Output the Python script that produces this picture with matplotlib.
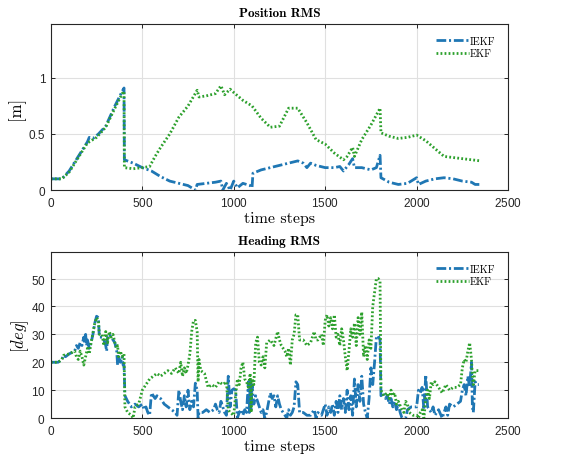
import matplotlib
matplotlib.use("Agg")
import matplotlib.pyplot as plt
import numpy as np

# ---------------- data ----------------
pos_iekf_t = [0, 50, 60, 100, 150, 200, 210, 230, 260, 300, 350, 390, 400, 402, 450, 500, 550, 600, 650, 700,
              750, 790, 800, 850, 900, 930, 940, 960, 980, 1000, 1020, 1050, 1090, 1100, 1105, 1150, 1200, 1250,
              1300, 1350, 1380, 1400, 1420, 1450, 1500, 1550, 1580, 1600, 1630, 1650, 1660, 1700, 1750, 1780,
              1800, 1805, 1850, 1900, 1950, 2000, 2010, 2050, 2100, 2150, 2200, 2250, 2300, 2320, 2350]
pos_iekf_v = [0.1, 0.1, 0.1, 0.17, 0.3, 0.43, 0.47, 0.46, 0.5, 0.57, 0.75, 0.88, 0.91, 0.27, 0.24, 0.2, 0.17,
              0.12, 0.08, 0.06, 0.04, 0.0, 0.05, 0.06, 0.07, 0.08, 0.0, 0.06, 0.0, 0.08, 0.02, 0.06, 0.04, 0.02,
              0.15, 0.18, 0.2, 0.22, 0.24, 0.26, 0.24, 0.2, 0.24, 0.22, 0.2, 0.2, 0.21, 0.17, 0.23, 0.28, 0.2,
              0.2, 0.18, 0.2, 0.31, 0.11, 0.07, 0.05, 0.06, 0.11, 0.05, 0.08, 0.1, 0.11, 0.1, 0.08, 0.07, 0.05,
              0.05]

pos_ekf_t = [0, 60, 100, 150, 200, 250, 300, 350, 390, 400, 402, 450, 500, 540, 570, 600, 650, 700, 750, 800,
             810, 850, 900, 930, 950, 980, 1000, 1050, 1100, 1150, 1200, 1250, 1300, 1350, 1400, 1450, 1500,
             1550, 1600, 1620, 1650, 1660, 1700, 1750, 1800, 1805, 1850, 1900, 1950, 2000, 2050, 2100, 2150,
             2200, 2250, 2300, 2350]
pos_ekf_v = [0.1, 0.1, 0.16, 0.29, 0.42, 0.47, 0.56, 0.73, 0.86, 0.88, 0.2, 0.19, 0.2, 0.21, 0.3, 0.38, 0.5,
             0.65, 0.75, 0.89, 0.83, 0.84, 0.86, 0.93, 0.85, 0.9, 0.87, 0.8, 0.75, 0.64, 0.56, 0.57, 0.73, 0.73,
             0.6, 0.45, 0.41, 0.33, 0.27, 0.3, 0.38, 0.3, 0.45, 0.58, 0.73, 0.51, 0.48, 0.46, 0.47, 0.49, 0.44,
             0.37, 0.3, 0.29, 0.28, 0.27, 0.26]

head_iekf_t = [0, 40, 60, 70, 80, 100, 130, 140, 150, 160, 170, 180, 185, 190, 195, 200, 210, 220, 230, 240,
               250, 260, 265, 280, 290, 300, 305, 310, 320, 330, 340, 350, 360, 365, 370, 380, 390, 395, 400,
               405, 420, 440, 460, 480, 500, 510, 520, 530, 540, 550, 560, 570, 580, 600, 620, 640, 660, 680,
               690, 700, 710, 720, 730, 740, 750, 760, 770, 780, 790, 800, 805, 810, 830, 850, 870, 890, 900,
               910, 920, 930, 940, 950, 960, 970, 980, 990, 1000, 1010, 1020, 1030, 1040, 1050, 1060, 1070,
               1080, 1085, 1090, 1095, 1100, 1110, 1120, 1130, 1140, 1150, 1160, 1170, 1180, 1200, 1210, 1220,
               1230, 1240, 1250, 1260, 1270, 1280, 1290, 1300, 1310, 1320, 1330, 1340, 1350, 1360, 1380, 1400,
               1420, 1440, 1450, 1460, 1480, 1500, 1510, 1520, 1530, 1540, 1550, 1560, 1570, 1580, 1590, 1600,
               1610, 1620, 1630, 1640, 1650, 1660, 1670, 1680, 1690, 1700, 1710, 1720, 1730, 1740, 1750, 1760,
               1770, 1780, 1790, 1800, 1805, 1820, 1830, 1840, 1850, 1860, 1870, 1880, 1890, 1900, 1910, 1920,
               1940, 1950, 1970, 2000, 2010, 2020, 2030, 2040, 2050, 2060, 2070, 2080, 2090, 2100, 2120, 2140,
               2160, 2170, 2180, 2200, 2220, 2240, 2250, 2260, 2270, 2280, 2290, 2300, 2305, 2310, 2320, 2330,
               2340]
head_iekf_v = [20, 20, 21, 22.5, 22, 23, 24, 26, 25, 27, 26, 29, 27, 30, 26, 28, 25, 27, 30, 34,
               36.5, 36, 29, 29, 28, 26, 24, 29, 30, 29, 28, 27, 24, 19, 22, 20, 22, 19, 19,
               8, 6, 4, 5, 4, 5, 3, 4, 2, 1, 9, 8, 7, 8, 7, 5, 4, 3, 2,
               1, 10, 6, 3, 8, 4, 10, 3, 6, 4, 12.5, 10, 0, 2, 2, 3, 2, 3, 5,
               3, 2, 6, 4, 2, 1, 15, 4, 10, 10.5, 10, 0, 2, 3, 1, 3, 2,
               13, 2, 14, 3, 12, 5, 8, 6, 4, 2, 3, 0, 2, 9, 7, 8,
               4, 8, 5, 3, 2, 1, 0, 3, 1, 2, 4, 13, 12, 2, 2, 1,
               1, 3, 0, 2, 1, 5, 1, 4, 2, 5, 1, 6, 2, 8, 3, 7,
               2, 10, 3, 8, 1, 14, 4, 12, 6, 15, 5, 2, 0, 7, 18, 12,
               20, 29, 29.5, 28, 8, 9, 7, 8, 5, 7, 4, 6, 3, 5, 2, 0,
               0, 3, 4, 4, 10, 9, 11, 3, 15.5, 4, 3, 2, 4, 1, 3, 0,
               4, 1, 5, 4, 5, 6, 10, 12, 8, 15, 11, 20, 4, 2, 13, 12,
               12]

head_ekf_t = [0, 40, 60, 70, 100, 130, 140, 150, 160, 170, 180, 190, 200, 210, 220, 240, 250, 260, 265, 280,
              290, 300, 310, 320, 330, 340, 350, 360, 365, 370, 380, 390, 400, 405, 420, 440, 450, 460, 480,
              500, 520, 540, 560, 580, 600, 620, 640, 660, 680, 700, 710, 720, 730, 740, 750, 760, 770, 780,
              790, 800, 805, 810, 820, 840, 860, 880, 900, 920, 940, 960, 970, 980, 1000, 1010, 1020, 1030,
              1040, 1050, 1060, 1070, 1080, 1090, 1095, 1100, 1110, 1120, 1130, 1140, 1150, 1160, 1170, 1180,
              1200, 1220, 1240, 1250, 1260, 1280, 1290, 1300, 1310, 1320, 1330, 1340, 1350, 1360, 1380, 1400,
              1420, 1440, 1450, 1460, 1480, 1490, 1500, 1510, 1520, 1530, 1540, 1550, 1560, 1570, 1580, 1590,
              1600, 1610, 1620, 1630, 1640, 1650, 1660, 1670, 1680, 1690, 1700, 1710, 1720, 1730, 1740, 1750,
              1760, 1770, 1780, 1790, 1800, 1805, 1820, 1840, 1850, 1860, 1870, 1880, 1890, 1900, 1920, 1930,
              1940, 1950, 1960, 1980, 2000, 2010, 2020, 2030, 2040, 2050, 2060, 2070, 2080, 2090, 2100, 2120,
              2140, 2160, 2180, 2200, 2220, 2240, 2250, 2260, 2270, 2280, 2290, 2300, 2305, 2310, 2320, 2340]
head_ekf_v = [20, 20, 21, 22.5, 23, 24, 22, 21, 24, 22, 19, 22, 25, 23, 27, 34, 36, 35, 30, 30,
              26, 31, 27, 31, 29, 30, 27, 25, 26, 22, 24, 22, 23, 4, 2, 1, 0, 4, 5,
              10, 12, 14, 15, 16, 15, 16, 17, 16, 18, 16, 20, 15, 18, 16, 19, 23, 31, 35,
              35, 31, 13, 21, 17, 16, 11, 12, 11, 13, 12, 13, 3, 2, 1, 8, 14, 12,
              18, 20, 14, 13, 11, 16, 2, 14, 12, 27, 29, 20, 19, 22, 18, 27,
              28, 26, 31, 28, 26, 24, 22, 25, 19, 28, 30, 37, 37, 28, 28, 26,
              27, 31, 28, 28, 30, 26, 35, 37, 33, 36, 32, 37, 29, 30, 26, 32,
              28, 22, 17, 24, 32, 29, 34, 26, 36, 30, 38, 22, 26, 21, 28, 25,
              40, 45, 50, 50, 49, 10, 8, 9, 7, 10, 8, 9, 5, 6, 3, 2,
              6, 5, 2, 1, 1, 0, 2, 3, 0, 7, 10, 7, 13, 12, 13, 11,
              9, 12, 10, 11, 11, 12, 18, 21, 20, 24, 27, 21, 15, 12, 17, 17]

pos_yticks = [0, 0.5, 1]
pos_yticklabels = ["0", "0.5", "1"]
head_yticks = [0, 10, 20, 30, 40, 50]
x_ticks = [0, 500, 1000, 1500, 2000, 2500]

# ---------------- style ----------------
plt.rcParams['mathtext.fontset'] = 'cm'
plt.rcParams['axes.formatter.use_mathtext'] = True
plt.rcParams['lines.scale_dashes'] = False

blue = '#1f77b4'
green = '#2ca02c'
serif = 'cmr10'

fig = plt.figure(figsize=(5.78, 4.56), dpi=100)
fig.patch.set_facecolor('white')

ax1 = fig.add_axes([0.088, 0.581, 0.791, 0.364])
ax2 = fig.add_axes([0.088, 0.081, 0.791, 0.364])

iekf_ls = (0, (7, 2, 1.5, 2))
ekf_ls = (0, (1.3, 1.6))


def style(ax, title, ylabel, ylim, yticks, yticklabels=None, ylabelpad=2):
    ax.set_xlim(0, 2500)
    ax.set_ylim(*ylim)
    ax.set_xticks(x_ticks)
    ax.set_yticks(yticks)
    if yticklabels is not None:
        ax.set_yticklabels(yticklabels)
    ax.grid(True, color='#e0e0e0', linewidth=0.8)
    ax.set_axisbelow(True)
    ax.tick_params(direction='in', top=True, right=True, length=3, width=0.7,
                   colors='#262626', labelsize=8.5, pad=4)
    for lab in ax.get_xticklabels() + ax.get_yticklabels():
        lab.set_fontfamily('Liberation Sans')
        lab.set_color('#262626')
    for sp in ax.spines.values():
        sp.set_color('#262626')
        sp.set_linewidth(0.8)
    ax.set_title(title, fontfamily='cmb10', fontsize=9.5, pad=6)
    ax.set_xlabel('time steps', fontfamily=serif, fontsize=11.5, labelpad=2)
    ax.set_ylabel(ylabel, fontfamily=serif, fontsize=12, labelpad=ylabelpad)
    ax.legend(loc='upper right', frameon=False, handlelength=3.2,
              handletextpad=0.1, labelspacing=0.25, borderaxespad=0.8,
              bbox_to_anchor=(1.0, 1.0),
              prop={'family': serif, 'size': 7.5})


ax1.plot(pos_iekf_t, pos_iekf_v, color=blue, lw=2.0, linestyle=iekf_ls, label='IEKF')
ax1.plot(pos_ekf_t, pos_ekf_v, color=green, lw=2.0, linestyle=ekf_ls, label='EKF')
style(ax1, 'Position RMS', '[m]', (0, 1.48), pos_yticks, pos_yticklabels, ylabelpad=3)

ax2.plot(head_iekf_t, head_iekf_v, color=blue, lw=2.0, linestyle=iekf_ls, label='IEKF')
ax2.plot(head_ekf_t, head_ekf_v, color=green, lw=2.0, linestyle=ekf_ls, label='EKF')
style(ax2, 'Heading RMS', r'$[deg]$', (0, 59.5), head_yticks, ylabelpad=0)

fig.savefig('out.png', dpi=100, facecolor='white')
